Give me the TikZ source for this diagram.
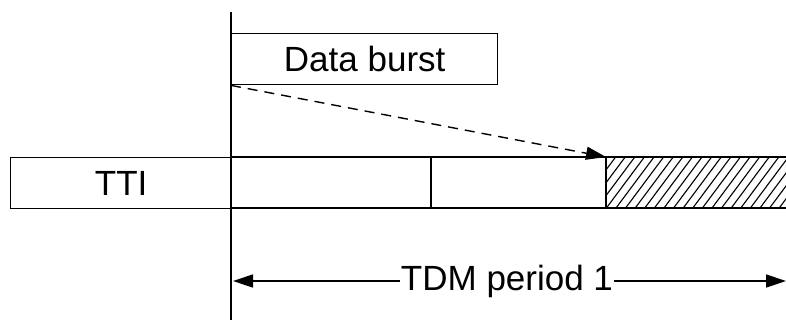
\documentclass[tikz,border=0pt]{standalone}
\usepackage{fontspec}
\setmainfont{Liberation Sans}
\usetikzlibrary{arrows.meta}
\begin{document}
\begin{tikzpicture}[x=1pt,y=-1pt,
  lbl/.style={font=\fontsize{35}{40}\selectfont, inner sep=0pt},
  thin/.style={line width=1.4pt},
  tip/.style={-{Triangle[length=20pt,width=13pt]}}]
\useasboundingbox (0,0) rectangle (786,322);
% coordinates
\coordinate (vtop) at (231,12);
\coordinate (vbot) at (231,320);
\coordinate (b1) at (231,157);
\coordinate (b2) at (431,157);
\coordinate (b3) at (606,157);
\coordinate (bend) at (786,157);
\coordinate (c1) at (231,208);
\coordinate (c2) at (431,208);
\coordinate (c3) at (606,208);
\coordinate (cend) at (786,208);
\coordinate (pl) at (233,281);
\coordinate (pr) at (786,281);
% hatched region
\begin{scope}
\clip (b3) rectangle (cend);
\foreach \i in {0,...,24} {
  \draw[line width=1.1pt] (606+\i*9.6-38,208) -- (606+\i*9.6,157);
}
\end{scope}
% Data burst box
\node[draw, thin, minimum width=266pt, minimum height=51pt, anchor=north west, inner sep=0pt] (burst) at (231,33) {};
\node[lbl] (burstlbl) at (burst.center) {Data burst};
% TTI box
\node[draw, thin, minimum width=221pt, minimum height=51pt, anchor=north west, inner sep=0pt] (tti) at (10,157) {};
\node[lbl] (ttilbl) at (tti.center) {TTI};
% bar lines
\draw[thin] (b1) -- (bend);
\draw[thin] (c1) -- (cend);
\draw[thin] (b2) -- (c2);
\draw[line width=1.8pt] (b3) -- (c3);
% vertical line
\draw[line width=2pt] (vtop) -- (vbot);
% dashed arrow
\draw[thin, dash pattern=on 10pt off 7pt, tip] (burst.south west) -- (b3);
% TDM period
\node[lbl, fill=white, inner xsep=1pt] (tdm) at (507,281) {TDM period 1};
\draw[thin, tip] (tdm.west) -- (pl);
\draw[thin, tip] (tdm.east) -- (pr);
\end{tikzpicture}
\end{document}
